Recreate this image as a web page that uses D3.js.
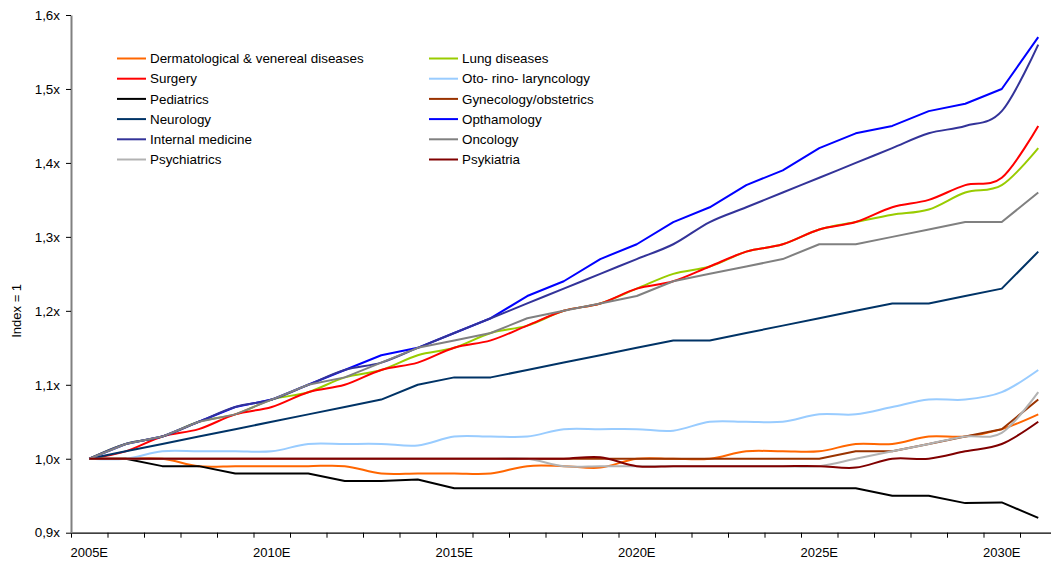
<!DOCTYPE html>
<html>
<head>
<meta charset="utf-8">
<script src="https://cdn.jsdelivr.net/npm/d3@7"></script>
<style>
  html, body { margin: 0; padding: 0; background: #fff; }
  svg { display: block; }
  text { font-family: "Liberation Sans", Arial, sans-serif; fill: #000; }
  .xlab text { font-family: "Liberation Sans Narrow", "Arial Narrow", "Liberation Sans", sans-serif; }
</style>
</head>
<body>
<svg id="chart" width="1051" height="571"></svg>
<script>
// ---------- data ----------
const years = [2005,2006,2007,2008,2009,2010,2011,2012,2013,2014,2015,2016,2017,2018,2019,2020,2021,2022,2023,2024,2025,2026,2027,2028,2029,2030,2031];
const xTickLabels = ["2005E","2010E","2015E","2020E","2025E","2030E"];
const yTicks = [0.9,1.0,1.1,1.2,1.3,1.4,1.5,1.6];

const dermatological = [1.00,1.00,1.00,0.99,0.99,0.99,0.99,0.99,0.98,0.98,0.98,0.98,0.99,0.99,0.988,1.00,1.00,1.00,1.01,1.01,1.01,1.02,1.02,1.03,1.03,1.04,1.06];
const lungDiseases   = [1.00,1.02,1.03,1.05,1.06,1.08,1.09,1.11,1.12,1.14,1.15,1.17,1.18,1.20,1.21,1.23,1.25,1.26,1.28,1.29,1.31,1.32,1.33,1.337,1.36,1.37,1.42];
const surgery        = [1.00,1.01,1.03,1.04,1.06,1.07,1.09,1.10,1.12,1.13,1.15,1.16,1.18,1.20,1.21,1.23,1.24,1.26,1.28,1.29,1.31,1.32,1.34,1.35,1.37,1.38,1.45];
const otoRino        = [1.00,1.00,1.01,1.01,1.01,1.01,1.02,1.02,1.02,1.018,1.03,1.03,1.03,1.04,1.04,1.04,1.038,1.05,1.05,1.05,1.06,1.06,1.07,1.08,1.08,1.09,1.12];
const pediatrics     = [1.00,1.00,0.99,0.99,0.98,0.98,0.98,0.97,0.97,0.972,0.96,0.96,0.96,0.96,0.96,0.96,0.96,0.96,0.96,0.96,0.96,0.96,0.95,0.95,0.94,0.941,0.92];
const gynecology     = [1.00,1.00,1.00,1.00,1.00,1.00,1.00,1.00,1.00,1.00,1.00,1.00,1.00,1.00,1.00,1.00,1.00,1.00,1.00,1.00,1.00,1.01,1.01,1.02,1.03,1.04,1.08];
const neurology      = [1.00,1.01,1.02,1.03,1.04,1.05,1.06,1.07,1.08,1.10,1.11,1.11,1.12,1.13,1.14,1.15,1.16,1.16,1.17,1.18,1.19,1.20,1.21,1.21,1.22,1.23,1.28];
const opthamology    = [1.00,1.02,1.03,1.05,1.07,1.08,1.10,1.12,1.14,1.15,1.17,1.19,1.22,1.24,1.27,1.29,1.32,1.34,1.37,1.39,1.42,1.44,1.45,1.47,1.48,1.50,1.57];
const internalMed    = [1.00,1.02,1.03,1.05,1.07,1.08,1.10,1.12,1.13,1.15,1.17,1.19,1.21,1.23,1.25,1.27,1.29,1.32,1.34,1.36,1.38,1.40,1.42,1.44,1.45,1.47,1.56];
const oncology       = [1.00,1.02,1.03,1.05,1.06,1.08,1.10,1.11,1.13,1.15,1.16,1.17,1.19,1.20,1.21,1.22,1.24,1.25,1.26,1.27,1.29,1.29,1.30,1.31,1.32,1.32,1.36];
const psychiatrics   = [1.00,1.00,1.00,1.00,1.00,1.00,1.00,1.00,1.00,1.00,1.00,1.00,1.00,0.99,0.99,0.99,0.99,0.99,0.99,0.99,0.99,1.00,1.01,1.02,1.03,1.035,1.09];
const psykiatria     = [1.00,1.00,1.00,1.00,1.00,1.00,1.00,1.00,1.00,1.00,1.00,1.00,1.00,1.00,1.002,0.99,0.99,0.99,0.99,0.99,0.99,0.988,1.00,1.00,1.01,1.02,1.05];

// ---------- series table (drawing order) ----------
const series = [
  {name: "Dermatological & venereal diseases", values: dermatological, color: "#FF6600", smooth: true,  col: 0, row: 0},
  {name: "Lung diseases",                      values: lungDiseases,   color: "#99CC00", smooth: true,  col: 1, row: 0},
  {name: "Surgery",                            values: surgery,        color: "#FF0000", smooth: true,  col: 0, row: 1},
  {name: "Oto- rino- laryncology",             values: otoRino,        color: "#99CCFF", smooth: true,  col: 1, row: 1},
  {name: "Pediatrics",                         values: pediatrics,     color: "#000000", smooth: false, col: 0, row: 2},
  {name: "Gynecology/obstetrics",              values: gynecology,     color: "#993300", smooth: false, col: 1, row: 2},
  {name: "Neurology",                          values: neurology,      color: "#003366", smooth: false, col: 0, row: 3},
  {name: "Opthamology",                        values: opthamology,    color: "#0000FF", smooth: false, col: 1, row: 3},
  {name: "Internal medicine",                  values: internalMed,    color: "#333399", smooth: true,  col: 0, row: 4},
  {name: "Oncology",                           values: oncology,       color: "#808080", smooth: false, col: 1, row: 4},
  {name: "Psychiatrics",                       values: psychiatrics,   color: "#B2B2B2", smooth: true,  col: 0, row: 5},
  {name: "Psykiatria",                         values: psykiatria,     color: "#800000", smooth: true,  col: 1, row: 5}
];

// ---------- layout ----------
const svg = d3.select("#chart");
const plotLeft = 71, plotTop = 15, plotBottom = 532.7, bandW = 36.5;

const x = d3.scaleBand().domain(years).range([plotLeft, plotLeft + bandW * years.length]).padding(0);
const xEdge = d3.scaleLinear().domain([years[0] - 0.5, years[years.length - 1] + 0.5]).range([plotLeft, plotLeft + bandW * years.length]);
const y = d3.scaleLinear().domain([0.9, 1.6]).range([plotBottom, plotTop]);
const cx = yr => x(yr) + x.bandwidth() / 2;

// x axis: ticks at category boundaries
const xTickAxis = d3.axisBottom(xEdge)
  .tickValues(years.map(d => d - 0.5).concat([years[years.length - 1] + 0.5]))
  .tickSize(5).tickSizeOuter(0).tickFormat("");
const gx = svg.append("g").attr("transform", `translate(0,${plotBottom})`).call(xTickAxis);
gx.select(".domain").attr("stroke", "#000").attr("stroke-width", 1.2);
gx.selectAll(".tick line").attr("stroke", "#000");

// x labels
const xLabelAxis = d3.axisBottom(x)
  .tickValues(years.filter(d => xTickLabels.includes(d + "E")))
  .tickSize(0).tickPadding(15)
  .tickFormat(d => d + "E");
const gxl = svg.append("g").attr("class", "xlab").attr("transform", `translate(0,${plotBottom})`).call(xLabelAxis);
gxl.select(".domain").remove();
gxl.selectAll("text").attr("font-size", 13);

// y axis
const yAxis = d3.axisLeft(y).tickValues(yTicks).tickSize(5).tickSizeOuter(0).tickPadding(6)
  .tickFormat(d => d.toFixed(1).replace(".", ",") + "x");
const gy = svg.append("g").attr("transform", `translate(${plotLeft},0)`).call(yAxis);
gy.select(".domain").attr("stroke", "#808080").attr("stroke-width", 2);
gy.selectAll(".tick line").attr("stroke", "#000");
gy.selectAll("text").attr("font-size", 13.4);

// y title
svg.append("text")
  .attr("transform", `translate(21,${y(1.2)}) rotate(-90)`)
  .attr("text-anchor", "middle")
  .attr("font-size", 13)
  .text("Index = 1");

// lines
const lineSmooth = d3.line().x((d, i) => cx(years[i])).y(d => y(d)).curve(d3.curveCatmullRom.alpha(0));
const lineStraight = d3.line().x((d, i) => cx(years[i])).y(d => y(d));

svg.append("g").selectAll("path").data(series).join("path")
  .attr("fill", "none")
  .attr("stroke", d => d.color)
  .attr("stroke-width", 2)
  .attr("stroke-linejoin", "round")
  .attr("d", d => (d.smooth ? lineSmooth : lineStraight)(d.values));

// legend
const legCols = [117, 429], legRow0 = 58.5, legRowH = 20.2;
const leg = svg.append("g").selectAll("g").data(series).join("g")
  .attr("transform", d => `translate(${legCols[d.col]},${legRow0 + d.row * legRowH})`);
leg.append("line").attr("x1", 0).attr("x2", 29).attr("y1", 0).attr("y2", 0)
  .attr("stroke", d => d.color).attr("stroke-width", 2);
leg.append("text").attr("x", 33).attr("y", 0).attr("dy", "0.35em")
  .attr("font-size", 13.4).text(d => d.name);
</script>
</body>
</html>
